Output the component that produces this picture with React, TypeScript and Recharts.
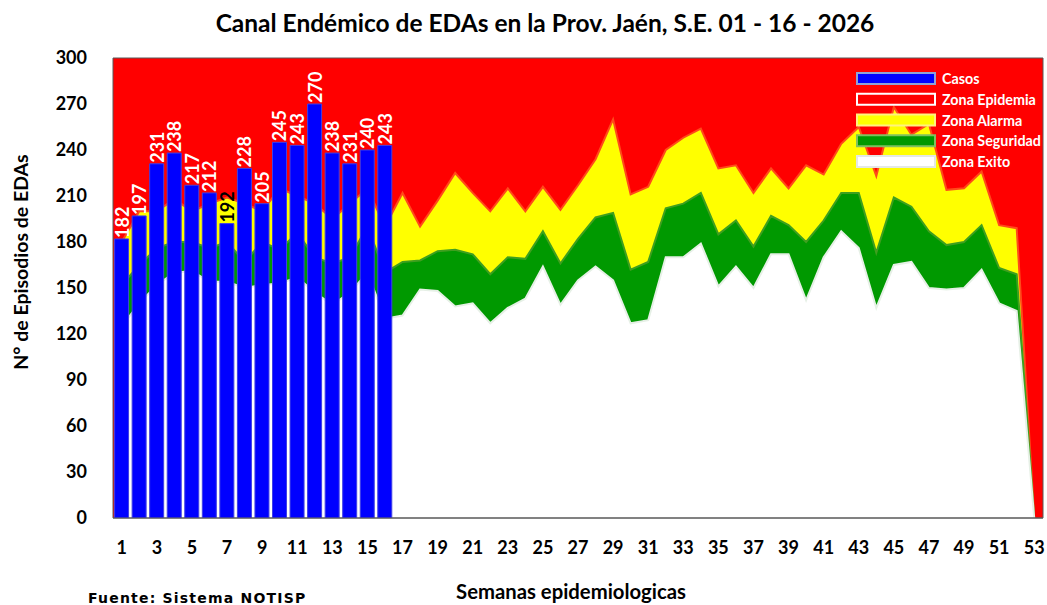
import {
  Area,
  Bar,
  CartesianGrid,
  ComposedChart,
  ReferenceArea,
  XAxis,
  YAxis,
} from "recharts";

// Semanas epidemiológicas 1..53
const semanas = [
  "1", "2", "3", "4", "5", "6", "7", "8", "9", "10",
  "11", "12", "13", "14", "15", "16", "17", "18", "19", "20",
  "21", "22", "23", "24", "25", "26", "27", "28", "29", "30",
  "31", "32", "33", "34", "35", "36", "37", "38", "39", "40",
  "41", "42", "43", "44", "45", "46", "47", "48", "49", "50",
  "51", "52", "53",
];

// Casos notificados (S.E. 01 - 16)
const casos = [182, 197, 231, 238, 217, 212, 192, 228, 205, 245, 243, 270, 238, 231, 240, 243];

// Límite superior de cada zona del canal endémico
const zonaExito = [
  125, 140, 152, 160, 161, 154, 154, 150, 152, 153, 157, 147, 139, 147, 160, 130,
  132, 149, 148, 138, 140, 127, 137, 143, 164, 139, 155, 164, 155, 127, 129, 170,
  170, 179, 151, 164, 150, 172, 172, 142, 170, 187, 176, 137, 165, 167, 150, 149,
  150, 162, 140, 135, 0,
];
const zonaSeguridad = [
  152, 165, 176, 180, 180, 176, 180, 167, 180, 175, 186, 170, 166, 170, 190, 160,
  167, 168, 174, 175, 172, 159, 170, 169, 187, 166, 182, 196, 199, 162, 167, 202,
  205, 212, 185, 194, 177, 197, 191, 180, 194, 212, 212, 173, 209, 203, 187, 178,
  180, 191, 163, 159, 0,
];
const zonaAlarma = [
  180, 200, 200, 208, 200, 205, 209, 205, 200, 215, 210, 205, 195, 205, 215, 190,
  212, 190, 207, 225, 212, 200, 215, 200, 216, 201, 217, 234, 260, 211, 216, 240,
  248, 254, 228, 230, 212, 228, 215, 230, 224, 244, 255, 223, 268, 250, 257, 214,
  215, 226, 191, 189, 0,
];

const yTicks = [0, 30, 60, 90, 120, 150, 180, 210, 240, 270, 300];

const leyenda = [
  { nombre: "Casos", fill: "#0000FF", borde: "#8EA2D6" },
  { nombre: "Zona Epidemia", fill: "#FF0000", borde: "#FFFFFF" },
  { nombre: "Zona Alarma", fill: "#FFFF00", borde: "#FFF27F" },
  { nombre: "Zona Seguridad", fill: "#009900", borde: "#7FC15F" },
  { nombre: "Zona Exito", fill: "#FFFFFF", borde: "#E4E8E4" },
];

const data = semanas.map((s, i) => ({
  semana: s,
  casos: i < casos.length ? casos[i] : null,
  exito: zonaExito[i],
  seguridad: zonaSeguridad[i],
  alarma: zonaAlarma[i],
}));

const FONT = "Lato, 'Open Sans', sans-serif";

function CasosLabel(props: any) {
  const { x, y, width, value, index } = props;
  if (value == null) return null;
  const cx = x + width / 2;
  const top = y - 1;
  return (
    <text
      x={cx}
      y={top}
      transform={`rotate(-90, ${cx}, ${top})`}
      textAnchor="start"
      dominantBaseline="central"
      fill={index === 6 ? "#000000" : "#FFFFFF"}
      fontFamily={FONT}
      fontWeight={700}
      fontSize={18}
    >
      {value}
    </text>
  );
}

export default function App() {
  return (
    <div
      style={{
        position: "absolute",
        left: 0,
        top: 0,
        width: 1047,
        height: 605,
        background: "#FFFFFF",
        fontFamily: FONT,
      }}
    >
      <ComposedChart
        width={1047}
        height={605}
        data={data}
        margin={{ top: 58, right: 4, left: 0, bottom: 27 }}
        barCategoryGap="9%"
      >
        <CartesianGrid horizontal={false} vertical={false} fill="#FF0000" fillOpacity={1} />
        <XAxis
          dataKey="semana"
          interval={1}
          height={60}
          tickLine={false}
          tickSize={0}
          tickMargin={23}
          axisLine={{ stroke: "#595959" }}
          tick={{ fill: "#000000", fontSize: 18, fontWeight: 700, fontFamily: FONT }}
        />
        <YAxis
          domain={[0, 300]}
          ticks={yTicks}
          width={113}
          tickLine={false}
          axisLine={false}
          tickSize={0}
          tickMargin={26}
          allowDataOverflow
          tick={{ fill: "#000000", fontSize: 18, fontWeight: 700, fontFamily: FONT }}
        />
        <Area
          type="linear"
          dataKey="alarma"
          fill="#FFFF00"
          fillOpacity={1}
          stroke="#FF4A1A"
          strokeWidth={2}
          isAnimationActive={false}
          dot={false}
          activeDot={false}
        />
        <Area
          type="linear"
          dataKey="seguridad"
          fill="#009900"
          fillOpacity={1}
          stroke="#3F9F1F"
          strokeWidth={2}
          isAnimationActive={false}
          dot={false}
          activeDot={false}
        />
        <Area
          type="linear"
          dataKey="exito"
          fill="#FFFFFF"
          fillOpacity={1}
          stroke="#E6F0E6"
          strokeWidth={2}
          isAnimationActive={false}
          dot={false}
          activeDot={false}
        />
        <Bar
          dataKey="casos"
          fill="#0000FF"
          stroke="#3F3FE6"
          strokeWidth={1}
          isAnimationActive={false}
          label={<CasosLabel />}
        />
        <ReferenceArea y1={0} y2={300} fill="none" stroke="#595959" strokeWidth={1} ifOverflow="visible" />
      </ComposedChart>

      <svg
        width={1047}
        height={605}
        style={{ position: "absolute", left: 0, top: 0, pointerEvents: "none" }}
      >
        <text
          x={545}
          y={32}
          textAnchor="middle"
          fontFamily={FONT}
          fontWeight={700}
          fontSize={24.5}
          fill="#000000"
        >
          Canal Endémico de EDAs en la Prov. Jaén, S.E. 01 - 16 - 2026
        </text>
        <text
          x={20}
          y={262}
          transform="rotate(-90, 20, 262)"
          textAnchor="middle"
          dominantBaseline="central"
          fontFamily={FONT}
          fontWeight={700}
          fontSize={19.5}
          fill="#000000"
        >
          N° de Episodios de EDAs
        </text>
        <text
          x={571}
          y={599}
          textAnchor="middle"
          fontFamily={FONT}
          fontWeight={700}
          fontSize={20.3}
          fill="#000000"
        >
          Semanas epidemiologicas
        </text>
        <text
          x={88}
          y={603}
          fontFamily="'DejaVu Sans', sans-serif"
          fontWeight={700}
          fontSize={14}
          letterSpacing={1.2}
          fill="#000000"
        >
          Fuente: Sistema NOTISP
        </text>
        {leyenda.map((item, i) => {
          const cy = 78.5 + i * 20.75;
          return (
            <g key={item.nombre}>
              <rect
                x={857}
                y={cy - 5.5}
                width={78}
                height={11}
                fill={item.fill}
                stroke={item.borde}
                strokeWidth={2}
              />
              <text
                x={942}
                y={cy}
                dominantBaseline="central"
                fontFamily={FONT}
                fontWeight={700}
                fontSize={14.3}
                fill="#FFFFFF"
              >
                {item.nombre}
              </text>
            </g>
          );
        })}
      </svg>
    </div>
  );
}
